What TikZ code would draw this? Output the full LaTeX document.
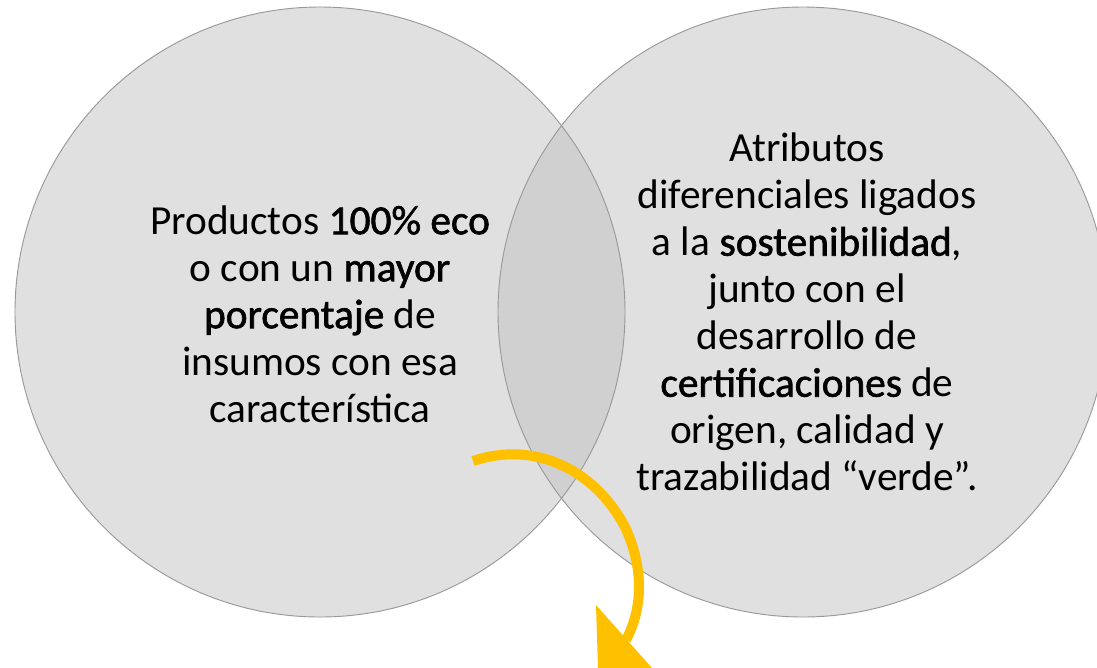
\documentclass[tikz,border=0pt]{standalone}
\usepackage{fontspec}
\setmainfont{Carlito}
\newfontfamily\emfont[FakeBold=1.5]{Carlito}
\usepackage{tikz}
\usetikzlibrary{positioning}
\definecolor{circlefill}{HTML}{E0E0E0}
\definecolor{lensfill}{HTML}{D0D0D0}
\definecolor{rimgray}{HTML}{999999}
\definecolor{arrowgold}{HTML}{FFC000}
\newdimen\rdim
\rdim=228.75pt
\newcommand{\hl}[1]{{\emfont #1}}
\tikzstyle{venn}=[
  circle,
  fill=circlefill,
  inner sep=0pt,
  minimum size=2\rdim,
]
\tikzstyle{rim}=[
  draw=rimgray,
  line width=.7pt,
]
\tikzstyle{vtext}=[
  align=center,
  font={\fontsize{31}{35.25}\selectfont},
  inner sep=0pt,
]
\tikzstyle{turn}=[
  draw=arrowgold,
  line width=7.5pt,
]
\tikzset{
  x=.75pt,
  y=-.75pt,
}

\begin{document}
\begin{tikzpicture}
     \useasboundingbox (0,0) rectangle (1097,668);
     \node (leftset) [venn] at (320,312) {};
     \node (rightset) [venn] at (803,312) {};
     %%
     \begin{scope}
       \clip (leftset.center) circle [radius=\rdim];
       \fill [lensfill] (rightset.center) circle [radius=\rdim];
     \end{scope}
     \draw [rim] (leftset.center) circle [radius=\rdim];
     \draw [rim] (rightset.center) circle [radius=\rdim];
     %%
     \node (lefttext) [vtext] at (320,314) {Productos \hl{100\% eco}\\
       o con un \hl{mayor}\\ \hl{porcentaje} de\\ insumos con esa\\ característica};
     \node (righttext) [vtext] at (807,312) {Atributos\\ diferenciales ligados\\
       a la \hl{sostenibilidad},\\ junto con el\\ desarrollo de\\
       \hl{certificaciones} de\\ origen, calidad y\\ trazabilidad “verde”.};
     %%
     \coordinate (S) at (473,461);
     \coordinate (M) at (625,527);
     \coordinate (E) at (626,640);
     \draw [turn] (S) .. controls (535,440) and (595,470) .. (M)
       .. controls (645,570) and (642,610) .. (E);
     \fill [arrowgold] (596,605) -- (598,668) -- (652,668) -- cycle;
   \end{tikzpicture}
\end{document}
